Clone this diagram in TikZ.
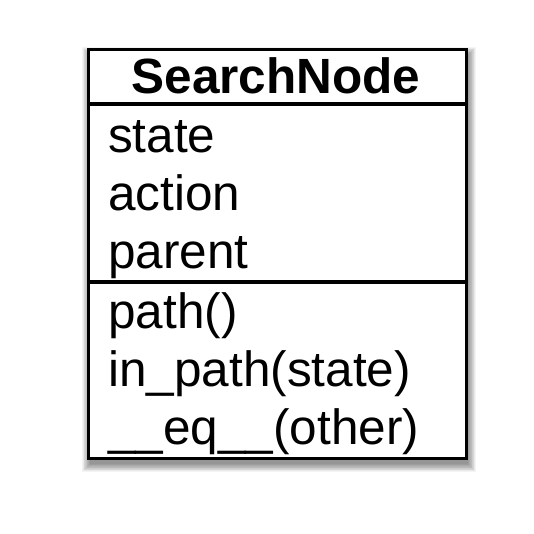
\documentclass[tikz,border=0pt]{standalone}
\usepackage{fontspec}
\setmainfont{Liberation Sans}
\begin{document}
\begin{tikzpicture}[x=1pt,y=-1pt,
  member/.style={anchor=base west,inner sep=0pt,font=\fontsize{49.5}{49.5}\selectfont},
  titletext/.style={anchor=base,inner sep=0pt,font=\fontsize{49.5}{49.5}\selectfont\bfseries},
  frame/.style={line width=3.2pt,draw=black}]
\useasboundingbox (0,0) rectangle (534,533);
% shadow
\foreach \i in {0,...,11}{
  \fill[black,opacity=0.045] (87+3-\i*0.7,48+7-\i*0.7) rectangle (465+3+\i*0.7,457+7+\i*0.7);
}
\node[frame,fill=white,minimum width=378pt,minimum height=409pt,inner sep=0pt,anchor=north west] (box) at (87,48) {};
\coordinate (d1l) at (87,104);
\coordinate (d1r) at (465,104);
\coordinate (d2l) at (87,282);
\coordinate (d2r) at (465,282);
\draw[frame] (d1l) -- (d1r);
\draw[frame] (d2l) -- (d2r);
\node[titletext] (title) at (276,93) {SearchNode};
\node[member] (a1) at (108,152) {state};
\node[member] (a2) at (108,210) {action};
\node[member] (a3) at (108,268) {parent};
\node[member] (m1) at (108,328) {path()};
\node[member] (m2) at (108,386) {in\_path(state)};
\node[member] (m3) at (108,444) {\_\_eq\_\_(other)};
\end{tikzpicture}
\end{document}
